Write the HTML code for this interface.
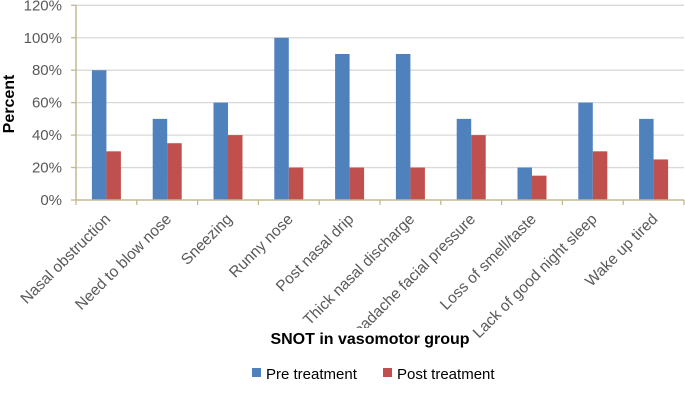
<!DOCTYPE html>
<html><head><meta charset="utf-8"><style>
body{margin:0;background:#fff;}
svg{display:block;font-family:"Liberation Sans",sans-serif;}
</style></head><body>
<svg id="chart" width="685" height="407">
<g id="grid"></g><g id="bars"></g><g id="axes"></g><g id="labels"></g>
<text x="14" y="104" transform="rotate(-90 14 104)" text-anchor="middle" font-size="16" font-weight="bold" fill="#000">Percent</text>
<g id="front"></g>
<rect x="268" y="328" width="204" height="20" fill="#fff"/>
<text x="370" y="344" text-anchor="middle" font-size="16" font-weight="bold" fill="#000">SNOT in vasomotor group</text>
<g>
<g><rect x="252" y="368" width="9" height="9" fill="#4f81bd"/><text x="266" y="379" font-size="15" fill="#000">Pre treatment</text></g>
<g><rect x="383" y="368" width="9" height="9" fill="#c0504d"/><text x="397" y="379" font-size="15" fill="#000">Post treatment</text></g>
</g>
</svg>
<script>
const categories=["Nasal obstruction","Need to blow nose","Sneezing","Runny nose","Post nasal drip","Thick nasal discharge","Headache facial pressure","Loss of smell/taste","Lack of good night sleep","Wake up tired"];
const preValues=[80,50,60,100,90,90,50,20,60,50];
const postValues=[30,35,40,20,20,20,40,15,30,25];
const yTicks=[0,20,40,60,80,100,120];
const NS="http://www.w3.org/2000/svg";
const L=76,R=684,T=5.3,B=200,YMAX=120;
const gw=(R-L)/categories.length;
const y=v=>B-(v/YMAX)*(B-T);
const x=i=>L+i*gw;
function mk(tag,attrs,parent){const e=document.createElementNS(NS,tag);for(const k in attrs)e.setAttribute(k,attrs[k]);document.getElementById(parent).appendChild(e);return e;}
yTicks.forEach(t=>{
 if(t>0){const g=mk('line',{x1:L,x2:R,y1:y(t),y2:y(t),stroke:'#d9d9d9','stroke-width':1.3},'grid');
 
 }
 const tx=mk('text',{x:L-14,y:y(t)+5,'text-anchor':'end','font-size':15,fill:'#595959'},'labels');
 tx.textContent=t+'%';
 
 
 mk('line',{x1:L-5,x2:L,y1:y(t),y2:y(t),stroke:'#c4b98c','stroke-width':1.3},'axes');
});
const bw=14.5;
categories.forEach((c,i)=>{
 const bx=x(i)+gw/2-bw;
 const b1=mk('rect',{x:bx,y:y(preValues[i]),width:bw,height:B-y(preValues[i]),fill:'#4f81bd'},'bars');
 
 
 const b2=mk('rect',{x:bx+bw,y:y(postValues[i]),width:bw,height:B-y(postValues[i]),fill:'#c0504d'},'bars');
 
 
 const cx=x(i)+gw/2+5,cy=220;
 const t=mk('text',{x:cx,y:cy,'text-anchor':'end','font-size':15.5,fill:'#595959',transform:`rotate(-45 ${cx} ${cy})`},'labels');
 t.textContent=c;
 
 
});
for(let i=0;i<=categories.length;i++){mk('line',{x1:x(i),x2:x(i),y1:B,y2:B+5,stroke:'#c4b98c','stroke-width':1.3},'axes');}
mk('line',{x1:L,x2:L,y1:T,y2:B,stroke:'#c4b98c','stroke-width':1.5},'axes');
mk('line',{x1:L,x2:R,y1:B,y2:B,stroke:'#c4b98c','stroke-width':1.5},'axes');
</script>
</body></html>
